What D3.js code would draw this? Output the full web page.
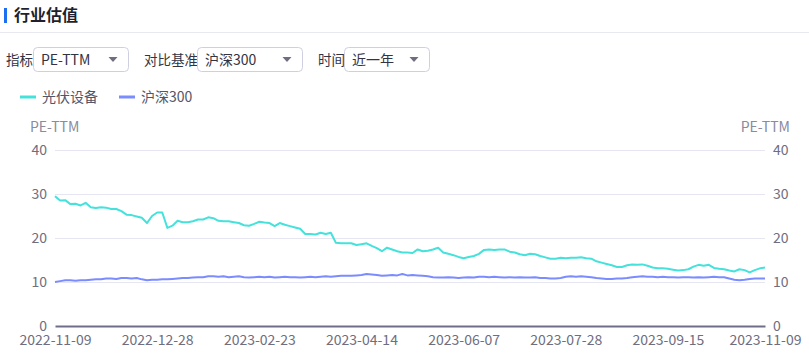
<!DOCTYPE html>
<html><head><meta charset="utf-8">
<script src="https://cdn.jsdelivr.net/npm/d3@7"></script>
<style>
html,body{margin:0;padding:0;background:#fff;}
svg{display:block;font-family:"Noto Sans CJK SC","Noto Sans",sans-serif;}
</style></head>
<body><svg id="c" width="809" height="359"></svg>
<script>
const title = "行业估值";
const seriesNames = ["光伏设备", "沪深300"];
const tickLabels = ["2022-11-09","2022-12-28","2023-02-23","2023-04-14","2023-06-07","2023-07-28","2023-09-15","2023-11-09"];
const yTicks = [0, 10, 20, 30, 40];
const pvEquip = [29.5,28.5,28.6,27.7,27.8,27.4,28.0,27.0,26.8,27.0,26.9,26.6,26.6,26.1,25.3,25.2,24.9,24.6,23.4,25.0,
25.8,25.8,22.3,22.8,23.9,23.6,23.6,23.8,24.2,24.2,24.7,24.5,23.9,23.8,23.8,23.6,23.4,22.9,22.8,23.2,
23.7,23.5,23.4,22.7,23.4,23.0,22.7,22.4,22.1,20.9,20.9,20.8,21.2,20.9,21.2,18.9,18.8,18.8,18.8,18.4,
18.6,18.8,18.2,17.7,17.0,17.8,17.4,17.0,16.7,16.7,16.6,17.4,17.0,17.1,17.4,17.8,16.7,16.4,16.1,15.7,
15.4,15.7,15.9,16.4,17.3,17.4,17.3,17.4,17.4,16.9,16.7,16.3,16.1,16.4,16.3,15.9,15.6,15.3,15.3,15.5,
15.4,15.5,15.5,15.6,15.4,15.3,14.7,14.4,14.1,13.8,13.4,13.4,13.8,14.0,13.9,14.0,13.7,13.3,13.1,13.1,
13.0,12.8,12.6,12.7,12.9,13.5,13.9,13.7,13.9,13.2,13.0,12.9,12.6,12.4,12.9,12.7,12.2,12.7,13.1,13.3];
const hs300 = [10.0,10.2,10.4,10.4,10.3,10.4,10.4,10.5,10.6,10.6,10.8,10.8,10.7,10.9,10.9,10.8,10.9,10.6,10.4,10.5,
10.5,10.6,10.6,10.7,10.8,10.9,10.9,11.0,11.1,11.1,11.3,11.3,11.2,11.3,11.1,11.2,11.3,11.1,11.0,11.1,
11.2,11.1,11.2,11.0,11.1,11.2,11.1,11.1,11.0,11.1,11.2,11.1,11.2,11.3,11.2,11.3,11.4,11.4,11.4,11.5,
11.6,11.8,11.7,11.6,11.4,11.5,11.6,11.5,11.8,11.5,11.6,11.5,11.4,11.3,11.1,11.0,11.0,11.1,11.0,10.9,
11.0,11.1,11.0,11.2,11.2,11.1,11.2,11.1,11.0,11.1,11.0,11.1,11.0,11.0,11.1,10.9,10.9,10.8,10.8,10.9,
11.2,11.3,11.2,11.3,11.2,11.1,10.9,10.8,10.7,10.7,10.8,10.8,10.9,11.1,11.2,11.3,11.2,11.2,11.1,11.2,
11.1,11.1,11.0,11.1,11.1,11.0,11.1,11.0,11.1,11.2,11.1,11.1,10.8,10.5,10.4,10.5,10.7,10.8,10.8,10.8];
const colors = ["#45e2dc", "#7b8cff"];
const labelInterval = 20;

const svg = d3.select("#c");
const W = 809;
// header
svg.append("rect").attr("x",4).attr("y",8).attr("width",3).attr("height",15).attr("fill","#1d6ff2");
svg.append("text").attr("x",14).attr("y",21).attr("font-size",16).attr("font-weight",700).attr("fill","#1f1f2e").text(title);
svg.append("line").attr("x1",0).attr("x2",W).attr("y1",32.5).attr("y2",32.5).attr("stroke","#e8e8f2");

// controls
const controls = [
  {label:"指标", lx:6, bx:33, bw:95, val:"PE-TTM"},
  {label:"对比基准", lx:144, bx:197, bw:105, val:"沪深300"},
  {label:"时间", lx:318, bx:344, bw:85, val:"近一年"}
];
controls.forEach(c=>{
  svg.append("text").attr("x",c.lx).attr("y",65).attr("font-size",13.5).attr("fill","#333344").text(c.label);
  svg.append("rect").attr("x",c.bx+0.5).attr("y",47.5).attr("width",c.bw).attr("height",24).attr("rx",4)
    .attr("fill","#fff").attr("stroke","#cfcfe2");
  svg.append("text").attr("x",c.bx+8).attr("y",65).attr("font-size",14).attr("fill","#333344").text(c.val);
  const ax = c.bx + c.bw - 15;
  svg.append("path").attr("d",`M${ax-4.5},57 L${ax+4.5},57 L${ax},62 Z`).attr("fill","#6e6e80");
});

// legend
const legX = [20, 119];
seriesNames.forEach((n,i)=>{
  svg.append("line").attr("x1",legX[i]).attr("x2",legX[i]+16).attr("y1",97).attr("y2",97)
    .attr("stroke",colors[i]).attr("stroke-width",3);
  svg.append("text").attr("x",legX[i]+22).attr("y",102).attr("font-size",14).attr("fill","#555566").text(n);
});

// chart
const N = pvEquip.length;
const x = d3.scaleLinear().domain([0, N-1]).range([55, 765]);
const y = d3.scaleLinear().domain([0, 40]).range([326, 150]);
const tickIdx = tickLabels.map((d,i)=> i < tickLabels.length-1 ? i*labelInterval : N-1);

const grid = svg.append("g");
yTicks.filter(v=>v>0).forEach(v=>{
  grid.append("line").attr("x1",55).attr("x2",765).attr("y1",Math.round(y(v))+0.5).attr("y2",Math.round(y(v))+0.5)
    .attr("stroke","#e6e6f2").attr("stroke-width",1);
});

const axL = svg.append("g").attr("transform","translate(55,0)")
  .call(d3.axisLeft(y).tickValues(yTicks).tickSize(0).tickPadding(8).tickFormat(d3.format("d")));
const axR = svg.append("g").attr("transform","translate(765,0)")
  .call(d3.axisRight(y).tickValues(yTicks).tickSize(0).tickPadding(8).tickFormat(d3.format("d")));
[axL, axR].forEach(a=>{
  a.select(".domain").remove();
  a.selectAll("text").attr("font-size",14).attr("fill","#6e6e80").attr("font-family",'"Noto Sans CJK SC","Noto Sans",sans-serif');
});

const axB = svg.append("g").attr("transform","translate(0,326)")
  .call(d3.axisBottom(x).tickValues(tickIdx).tickSize(0).tickPadding(9).tickFormat((d,i)=>tickLabels[i]));
axB.select(".domain").attr("stroke","#6e6e8a").attr("stroke-width",2);
axB.selectAll("text").attr("font-size",14).attr("fill","#6e6e80").attr("font-family",'"Noto Sans CJK SC","Noto Sans",sans-serif');

svg.append("text").attr("x",30).attr("y",132).attr("font-size",14).attr("fill","#8a8aa0").text("PE-TTM");
svg.append("text").attr("x",790).attr("y",132).attr("text-anchor","end").attr("font-size",14).attr("fill","#8a8aa0").text("PE-TTM");

const line = d3.line().x((d,i)=>x(i)).y(d=>y(d)).curve(d3.curveLinear);
[hs300, pvEquip].forEach((s,k)=>{
  svg.append("path").datum(s).attr("d",line).attr("fill","none")
    .attr("stroke", k===0?colors[1]:colors[0]).attr("stroke-width",2).attr("stroke-linejoin","round");
});
</script></body></html>
